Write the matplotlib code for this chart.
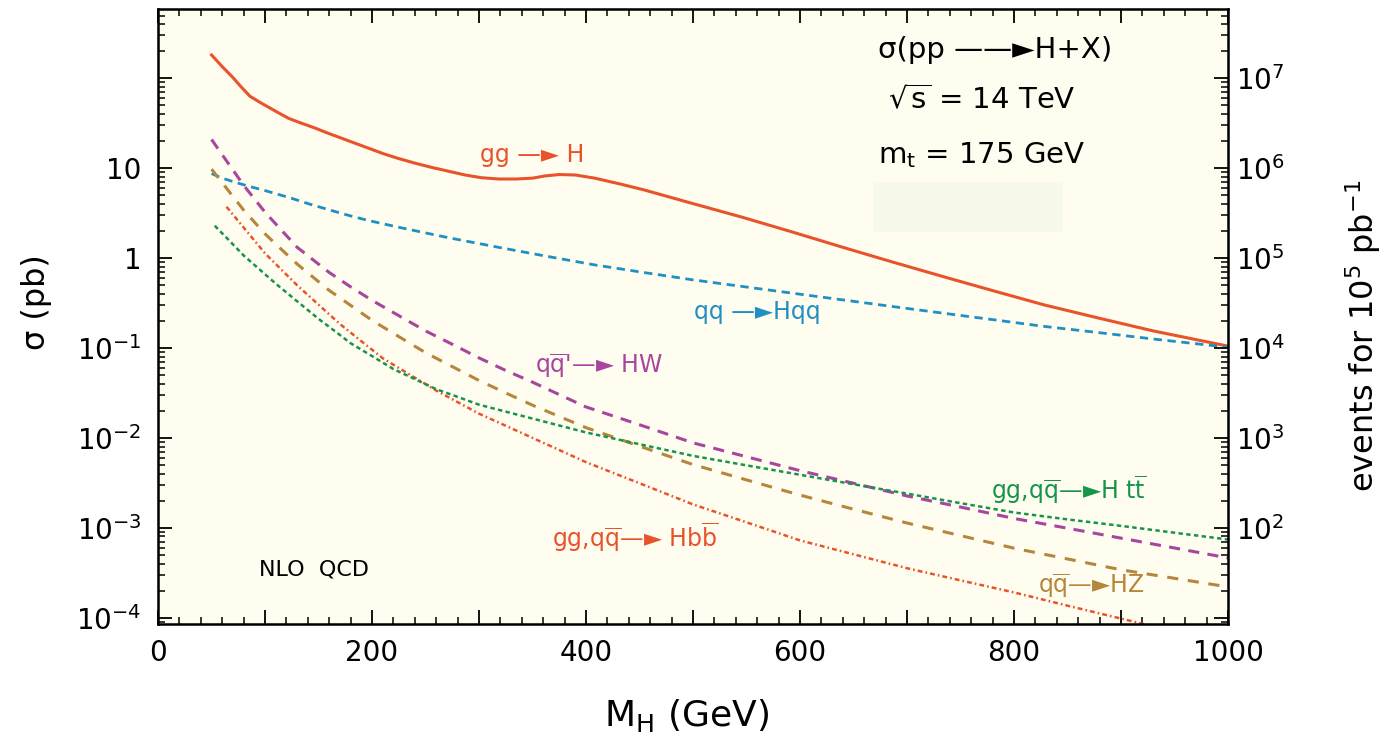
import numpy as np
import matplotlib.pyplot as plt
from matplotlib.ticker import FixedLocator, LogLocator, MultipleLocator, NullFormatter
from matplotlib.patches import Rectangle

plt.rcParams['font.family'] = ['DejaVu Sans']
plt.rcParams['mathtext.fontset'] = 'dejavusans'
plt.rcParams['lines.scale_dashes'] = False

# Higgs mass (GeV) and cross sections (pb)
mh_ggh = [50, 60, 70, 78, 86, 95, 103, 112, 122, 133, 146, 159, 177, 195, 210, 224, 240, 256,
          272, 287, 302, 318, 335, 350, 362, 375, 390, 400, 408, 430, 454, 499, 546, 593, 639,
          684, 735, 781, 828, 880, 930, 1000]
sig_ggh = [182, 135, 102, 79.4, 63.1, 54.3, 47.9, 41.7, 35.9, 32.0, 28.2, 24.5, 20.4, 17.0,
           14.6, 12.9, 11.4, 10.2, 9.23, 8.41, 7.85, 7.59, 7.59, 7.76, 8.22, 8.51, 8.41, 8.04,
           7.76, 6.76, 5.75, 4.07, 2.85, 1.95, 1.33, 0.923, 0.617, 0.432, 0.302, 0.214, 0.155,
           0.105]

mh_qqh = [50, 60, 73, 86, 99, 112, 125, 142, 159, 178, 196, 226, 270, 318, 363, 408, 454, 499,
          546, 593, 640, 684, 735, 780, 828, 880, 930, 1000]
sig_qqh = [8.71, 7.76, 6.92, 6.24, 5.69, 5.13, 4.62, 3.98, 3.47, 2.99, 2.63, 2.19, 1.70, 1.32,
           1.05, 0.841, 0.692, 0.575, 0.484, 0.407, 0.343, 0.292, 0.243, 0.207, 0.174, 0.148,
           0.126, 0.102]

mh_hw = [50, 60, 70, 80, 90, 100, 110, 120, 130, 145, 160, 180, 200, 225, 250, 275, 300, 325,
         350, 375, 400, 450, 500, 550, 600, 650, 700, 750, 800, 850, 900, 950, 1000]
sig_hw = [20.9, 14.1, 9.55, 6.46, 4.57, 3.24, 2.40, 1.78, 1.32, 0.955, 0.692, 0.479, 0.339,
          0.229, 0.155, 0.110, 0.0776, 0.0562, 0.0417, 0.0303, 0.0221, 0.0140, 8.81e-3,
          6.17e-3, 4.32e-3, 3.13e-3, 2.26e-3, 1.70e-3, 1.27e-3, 9.89e-4, 7.67e-4, 5.96e-4,
          4.62e-4]

mh_hz = [50, 60, 70, 80, 90, 100, 115, 130, 145, 160, 180, 200, 225, 250, 275, 300, 325, 350,
         375, 400, 450, 500, 550, 600, 650, 700, 750, 800, 850, 900, 950, 1000]
sig_hz = [9.77, 6.89, 4.85, 3.42, 2.52, 1.86, 1.26, 0.859, 0.612, 0.437, 0.298, 0.203, 0.134,
          0.0887, 0.0621, 0.0435, 0.0316, 0.0231, 0.0173, 0.0130, 8.09e-3, 5.05e-3, 3.41e-3,
          2.31e-3, 1.61e-3, 1.13e-3, 8.18e-4, 5.93e-4, 4.50e-4, 3.41e-4, 2.74e-4, 2.20e-4]

mh_hbb = [64, 80, 100, 115, 130, 150, 170, 190, 210, 235, 260, 280, 300, 350, 400, 450, 500,
          550, 600, 650, 700, 750, 800, 850, 900, 950, 1000]
sig_hbb = [3.72, 2.19, 1.13, 0.750, 0.499, 0.303, 0.185, 0.119, 0.0769, 0.0508, 0.0336,
           0.0250, 0.0186, 0.0100, 5.37e-3, 3.13e-3, 1.82e-3, 1.15e-3, 7.24e-4, 5.07e-4,
           3.55e-4, 2.60e-4, 1.91e-4, 1.36e-4, 9.77e-5, 7.00e-5, 5.01e-5]

mh_htt = [53, 65, 80, 95, 110, 130, 150, 165, 180, 200, 220, 240, 260, 280, 300, 350, 400,
          450, 500, 550, 600, 650, 700, 750, 800, 850, 900, 950, 1000]
sig_htt = [2.29, 1.64, 1.07, 0.746, 0.520, 0.331, 0.211, 0.155, 0.113, 0.0813, 0.0583, 0.0451,
           0.0348, 0.0286, 0.0234, 0.0164, 0.0115, 8.51e-3, 6.31e-3, 4.95e-3, 3.89e-3,
           3.05e-3, 2.40e-3, 1.88e-3, 1.48e-3, 1.24e-3, 1.05e-3, 8.81e-4, 7.41e-4]

lumi = 1e5  # pb^-1, for the right-hand axis

c_red = '#e8532b'
c_blue = '#1f8fc4'
c_mag = '#a8469e'
c_brown = '#b5863c'
c_green = '#16944a'
bg = '#fffdf0'

arr = '\u2014\u25ba'
arr2 = '\u2014\u2014\u25ba'
qbar = 'q$\\overline{\\mathrm{q}}$'

fig = plt.figure(figsize=(13.95, 7.42), dpi=100)
ax = fig.add_axes([0.1133, 0.159, 0.767, 0.8288])
ax.set_facecolor(bg)

ax.plot(mh_ggh, sig_ggh, color=c_red, lw=2.2)
ax.plot(mh_qqh, sig_qqh, color=c_blue, lw=2, dashes=(6, 4))
ax.plot(mh_hw, sig_hw, color=c_mag, lw=2.2, dashes=(8, 6))
ax.plot(mh_hz, sig_hz, color=c_brown, lw=2.2, dashes=(8, 7))
ax.plot(mh_hbb, sig_hbb, color=c_red, lw=1.8, dashes=(3.5, 2.2, 1.2, 2.2))
ax.plot(mh_htt, sig_htt, color=c_green, lw=1.8, dashes=(3.2, 2.4))

ax.set_yscale('log')
ax.set_xlim(0, 1000)
ax.set_ylim(8.5e-5, 590)

ax.xaxis.set_minor_locator(MultipleLocator(20))
ax.set_xticks([0, 100, 200, 300, 400, 500, 600, 700, 800, 900, 1000])
ax.set_xticklabels(['0', '', '200', '', '400', '', '600', '', '800', '', '1000'])

ax.yaxis.set_major_locator(FixedLocator([1e-4, 1e-3, 1e-2, 1e-1, 1, 10, 100]))
ax.set_yticklabels(['10$^{-4}$', '10$^{-3}$', '10$^{-2}$', '10$^{-1}$', '1', '10', ''])
ax.yaxis.set_minor_locator(LogLocator(base=10, subs=np.arange(2, 10), numticks=20))
ax.yaxis.set_minor_formatter(NullFormatter())

ax.tick_params(axis='both', which='major', direction='in', length=10, width=1.3,
               labelsize=20, pad=12)
ax.tick_params(axis='both', which='minor', direction='in', length=5, width=1.1)
ax.tick_params(axis='x', which='both', top=True)
ax.tick_params(axis='x', which='major', pad=11)
for s in ax.spines.values():
    s.set_linewidth(1.8)

ax2 = ax.twinx()
ax2.set_yscale('log')
ax2.set_ylim(8.5e-5 * lumi, 590 * lumi)
ax2.yaxis.set_major_locator(FixedLocator([1e1, 1e2, 1e3, 1e4, 1e5, 1e6, 1e7]))
ax2.set_yticklabels(['', '10$^{2}$', '10$^{3}$', '10$^{4}$', '10$^{5}$', '10$^{6}$', '10$^{7}$'])
ax2.yaxis.set_minor_locator(LogLocator(base=10, subs=np.arange(2, 10), numticks=20))
ax2.yaxis.set_minor_formatter(NullFormatter())
ax2.tick_params(which='major', direction='in', length=10, width=1.3, labelsize=20, pad=6)
ax2.tick_params(which='minor', direction='in', length=5, width=1.1)

# faint patch left over in the original scan
ax.add_patch(Rectangle((0.668, 0.637), 0.178, 0.081, transform=ax.transAxes,
                       facecolor='#f7f9ea', edgecolor='none', zorder=0.5))

# process labels
fs = 17
ax.text(350, 14, 'gg ' + arr + ' H', color=c_red, fontsize=fs, ha='center', va='center')
ax.text(560, 0.25, 'qq ' + arr + 'Hqq', color=c_blue, fontsize=fs, ha='center', va='center')
ax.text(412, 0.063, qbar + '\'' + arr + ' HW', color=c_mag, fontsize=fs,
        ha='center', va='center')
ax.text(851, 2.63e-3, 'gg,' + qbar + arr + 'H t$\\overline{\\mathrm{t}}$',
        color=c_green, fontsize=fs, ha='center', va='center')
ax.text(446, 7.8e-4, 'gg,' + qbar + arr + ' Hb$\\overline{\\mathrm{b}}$',
        color=c_red, fontsize=fs, ha='center', va='center')
ax.text(872, 2.3e-4, qbar + arr + 'HZ', color=c_brown, fontsize=fs,
        ha='center', va='center')
ax.text(146, 3.4e-4, 'NLO  QCD', color='k', fontsize=16, ha='center', va='center')

ax.text(0.673, 0.933, '\u03c3(pp ' + arr2 + 'H+X)', transform=ax.transAxes, fontsize=21,
        ha='left', va='center')
ax.text(0.682, 0.852, '$\\sqrt{\\mathrm{s}}$ = 14 TeV', transform=ax.transAxes, fontsize=21,
        ha='left', va='center')
ax.text(0.673, 0.763, 'm$_\\mathrm{t}$ = 175 GeV', transform=ax.transAxes, fontsize=21,
        ha='left', va='center')

fig.text(0.492, 0.036, 'M$_\\mathrm{H}$ (GeV)', fontsize=26, ha='center', va='center')
fig.text(0.0265, 0.593, '\u03c3 (pb)', fontsize=23, ha='center', va='center', rotation=90)
fig.text(0.977, 0.547, 'events for 10$^5$ pb$^{-1}$', fontsize=23, ha='center', va='center',
         rotation=90)

fig.savefig('out.png', dpi=100)
